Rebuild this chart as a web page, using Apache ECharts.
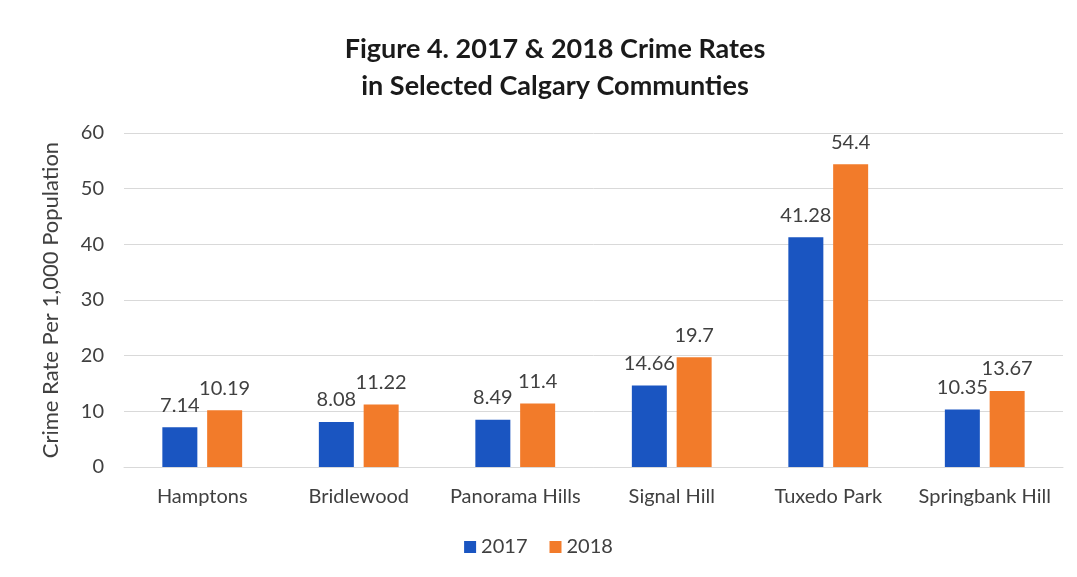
<!DOCTYPE html>
<html>
<head>
<meta charset="utf-8">
<script src="https://cdn.jsdelivr.net/npm/echarts@6/dist/echarts.min.js"></script>
<style>
  html, body { margin: 0; padding: 0; background: #ffffff; }
  #chart { width: 1077px; height: 577px; }
</style>
</head>
<body>
<div id="chart"></div>
<script>
// Communities and their crime rates per 1,000 population
const communities = ['Hamptons', 'Bridlewood', 'Panorama Hills', 'Signal Hill', 'Tuxedo Park', 'Springbank Hill'];
const rates2017 = [7.14, 8.08, 8.49, 14.66, 41.28, 10.35];
const rates2018 = [10.19, 11.22, 11.4, 19.7, 54.4, 13.67];
const yearNames = ['2017', '2018'];

const FONT = 'Lato, "Open Sans", sans-serif';
const TEXT = '#404040';
const BLUE = '#1a55c1';
const ORANGE = '#f27b2a';

const chart = echarts.init(document.getElementById('chart'), null, { renderer: 'canvas' });

const barLabel = {
  show: true,
  position: 'top',
  distance: 12,
  color: TEXT,
  fontFamily: FONT,
  fontSize: 20
};

chart.setOption({
  backgroundColor: '#ffffff',
  animation: false,
  title: {
    text: 'Figure 4. 2017 & 2018 Crime Rates\nin Selected Calgary Communties',
    left: 550,
    textAlign: 'center',
    top: 26,
    textStyle: {
      fontFamily: FONT,
      fontWeight: 'bold',
      fontSize: 27,
      lineHeight: 37,
      color: '#1a1a1a'
    }
  },
  legend: {
    data: yearNames,
    bottom: 15,
    left: 'center',
    itemWidth: 12,
    itemHeight: 12,
    itemGap: 22,
    icon: 'rect',
    textStyle: { fontFamily: FONT, fontSize: 20, color: TEXT }
  },
  grid: {
    left: 124,
    right: 14,
    top: 133,
    bottom: 110,
    containLabel: false
  },
  xAxis: {
    type: 'category',
    data: communities,
    axisLine: { show: true, lineStyle: { color: '#d9d9d9', width: 1 } },
    axisTick: { show: false },
    axisLabel: {
      interval: 0,
      color: TEXT,
      fontFamily: FONT,
      fontSize: 20,
      margin: 20
    }
  },
  yAxis: {
    type: 'value',
    min: 0,
    max: 60,
    interval: 10,
    name: 'Crime Rate Per 1,000 Population',
    nameLocation: 'middle',
    nameGap: 62,
    nameTextStyle: { fontFamily: FONT, fontSize: 22, color: TEXT },
    axisLine: { show: false },
    axisTick: { show: false },
    splitLine: { lineStyle: { color: '#d9d9d9', width: 1 } },
    axisLabel: {
      color: TEXT,
      fontFamily: FONT,
      fontSize: 20,
      margin: 20
    }
  },
  series: [
    {
      name: yearNames[0],
      type: 'bar',
      data: rates2017,
      barWidth: 35,
      barGap: '28%',
      itemStyle: { color: BLUE },
      label: barLabel
    },
    {
      name: yearNames[1],
      type: 'bar',
      data: rates2018,
      barWidth: 35,
      barGap: '28%',
      itemStyle: { color: ORANGE },
      label: barLabel
    }
  ]
});
</script>
</body>
</html>
